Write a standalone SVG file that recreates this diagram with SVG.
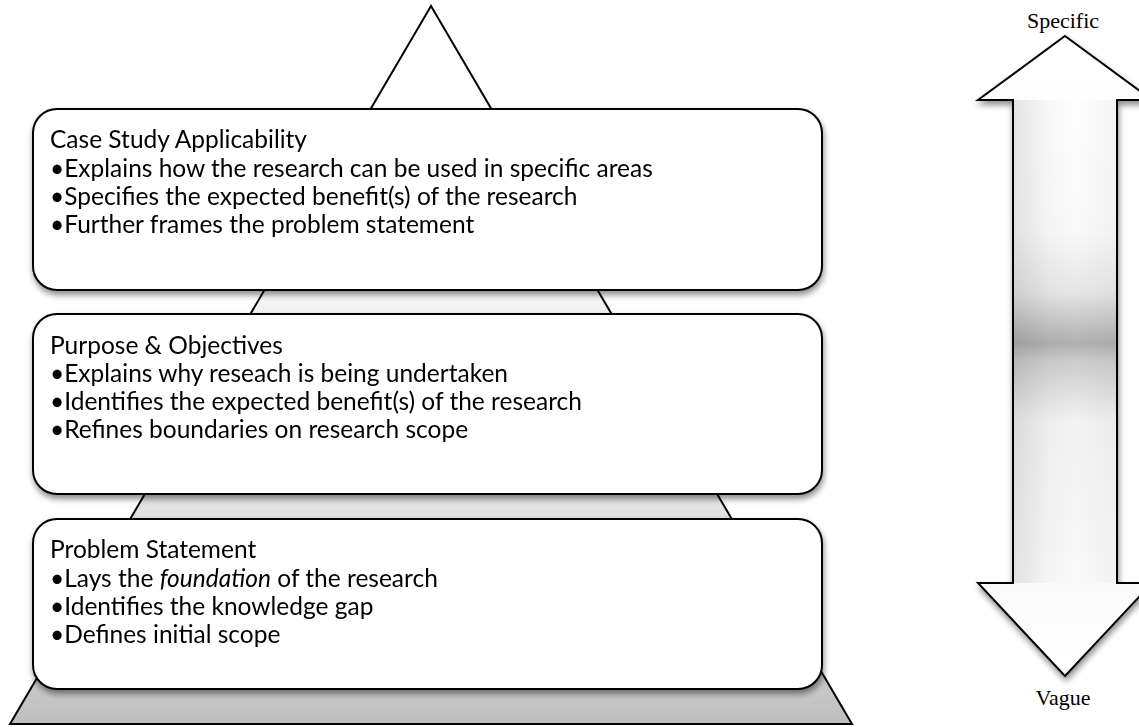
<svg xmlns="http://www.w3.org/2000/svg" width="1139" height="727" viewBox="0 0 1139 727">
  <defs>
    <linearGradient id="pyrFill" gradientUnits="userSpaceOnUse" x1="0" y1="6" x2="0" y2="724">
      <stop offset="0" stop-color="#ffffff"/>
      <stop offset="0.38" stop-color="#ffffff"/>
      <stop offset="0.42" stop-color="#f2f2f2"/>
      <stop offset="0.70" stop-color="#e2e2e2"/>
      <stop offset="0.96" stop-color="#c6c6c6"/>
      <stop offset="1" stop-color="#bdbdbd"/>
    </linearGradient>
    <linearGradient id="arrowFill" gradientUnits="userSpaceOnUse" x1="0" y1="36" x2="0" y2="676">
      <stop offset="0" stop-color="#ffffff"/>
      <stop offset="0.30" stop-color="#fafafa"/>
      <stop offset="0.40" stop-color="#e6e6e6"/>
      <stop offset="0.46" stop-color="#bdbdbd"/>
      <stop offset="0.48" stop-color="#b0b0b0"/>
      <stop offset="0.51" stop-color="#cdcdcd"/>
      <stop offset="0.60" stop-color="#f2f2f2"/>
      <stop offset="1" stop-color="#ffffff"/>
    </linearGradient>
    <linearGradient id="arrowSide" gradientUnits="userSpaceOnUse" x1="1013" y1="0" x2="1117" y2="0">
      <stop offset="0" stop-color="#000" stop-opacity="0.10"/>
      <stop offset="0.35" stop-color="#000" stop-opacity="0.02"/>
      <stop offset="0.6" stop-color="#000" stop-opacity="0"/>
      <stop offset="1" stop-color="#000" stop-opacity="0.03"/>
    </linearGradient>
    <filter id="shadow" x="-10%" y="-10%" width="120%" height="130%">
      <feGaussianBlur in="SourceAlpha" stdDeviation="3"/>
      <feOffset dx="1" dy="4" result="off"/>
      <feComponentTransfer><feFuncA type="linear" slope="0.45"/></feComponentTransfer>
      <feMerge><feMergeNode/><feMergeNode in="SourceGraphic"/></feMerge>
    </filter>
    <style>
      .outline { stroke: #000; stroke-width: 2; stroke-linejoin: miter; }
      .box { fill: #fff; stroke: #000; stroke-width: 2; }
      .body { font-family: Lato, "Liberation Sans", sans-serif; font-size: 24.5px; fill: #000; }
      .scale { font-family: "Liberation Serif", "DejaVu Serif", serif; font-size: 22px; fill: #000; text-anchor: middle; }
    </style>
  </defs>

  <rect width="1139" height="727" fill="#fff"/>

  <!-- pyramid backdrop -->
  <g id="pyramid">
    <polygon points="431,6 10,724 852,724" fill="url(#pyrFill)" class="outline"/>
  </g>

  <!-- tier: Case Study Applicability -->
  <g id="tier-case-study" filter="url(#shadow)">
    <rect class="box" x="33" y="109" width="789" height="181" rx="24" ry="24"/>
    <text class="body">
      <tspan x="50" y="148">Case Study Applicability</tspan>
      <tspan x="50" y="177">•Explains how the research can be used in specific areas</tspan>
      <tspan x="50" y="205">•Specifies the expected benefit(s) of the research</tspan>
      <tspan x="50" y="233">•Further frames the problem statement</tspan>
    </text>
  </g>

  <!-- tier: Purpose & Objectives -->
  <g id="tier-purpose" filter="url(#shadow)">
    <rect class="box" x="33" y="314" width="789" height="180" rx="24" ry="24"/>
    <text class="body">
      <tspan x="50" y="354">Purpose &amp; Objectives</tspan>
      <tspan x="50" y="382">•Explains why reseach is being undertaken</tspan>
      <tspan x="50" y="410">•Identifies the expected benefit(s) of the research</tspan>
      <tspan x="50" y="438">•Refines boundaries on research scope</tspan>
    </text>
  </g>

  <!-- tier: Problem Statement -->
  <g id="tier-problem" filter="url(#shadow)">
    <rect class="box" x="33" y="519" width="789" height="170" rx="24" ry="24"/>
    <text class="body">
      <tspan x="50" y="558">Problem Statement</tspan>
      <tspan x="50" y="587">•Lays the <tspan font-style="italic">foundation</tspan> of the research</tspan>
      <tspan x="50" y="615">•Identifies the knowledge gap</tspan>
      <tspan x="50" y="643">•Defines initial scope</tspan>
    </text>
  </g>

  <!-- specific / vague scale arrow -->
  <g id="scale-arrow">
    <path d="M1065,36 L1152,100 L1117,100 L1117,583 L1152,583 L1065,676 L978,583 L1013,583 L1013,100 L978,100 Z"
          fill="url(#arrowFill)" class="outline" filter="url(#shadow)"/>
    <rect x="1013" y="100" width="104" height="483" fill="url(#arrowSide)"/>
    <path d="M1013,583 L1013,100 M1117,100 L1117,583" fill="none" stroke="#000" stroke-width="2"/>
    <text class="scale" x="1063" y="28">Specific</text>
    <text class="scale" x="1063" y="705">Vague</text>
  </g>

  <g id="connectors"/>
</svg>
